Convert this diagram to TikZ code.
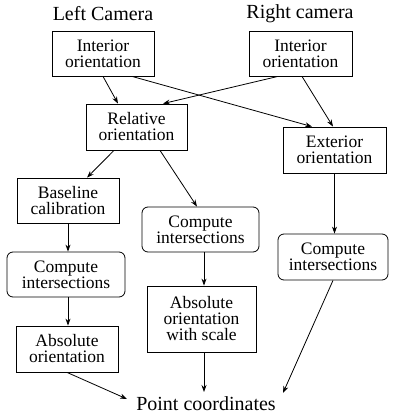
\documentclass[tikz,border=0pt]{standalone}
\usepackage{fontspec}
\setmainfont{Liberation Serif}
\usetikzlibrary{arrows.meta}
\begin{document}
\begin{tikzpicture}[x=1pt,y=-1pt,
  every node/.style={font=\fontsize{17.5}{16}\selectfont, align=center, inner sep=0pt},
  sbox/.style={draw, line width=0.8pt, minimum width=#1},
  rbox/.style={draw, line width=0.8pt, rounded corners=6pt, minimum width=#1},
  title/.style={font=\fontsize{20}{22}\selectfont},
  arr/.style={-{Stealth[length=7pt,width=5pt]}, line width=0.8pt}]
\useasboundingbox (0,0) rectangle (400,420);
\node[title] (LC) at (103,14) {Left Camera};
\node[title] (RC) at (300,14) {Right camera};
\node[sbox=102, minimum height=45] (LI) at (103,53.5) {Interior\\orientation};
\node[sbox=103, minimum height=45] (RI) at (300.5,53.5) {Interior\\orientation};
\node[sbox=101, minimum height=46] (Rel) at (136.5,127) {Relative\\orientation};
\node[sbox=103, minimum height=46] (Ext) at (334.5,150) {Exterior\\orientation};
\node[sbox=102, minimum height=45] (Base) at (68,200.5) {Baseline\\calibration};
\node[rbox=117, minimum height=45] (CM) at (200.5,229.5) {Compute\\intersections};
\node[rbox=110, minimum height=46] (CR) at (333,257) {Compute\\intersections};
\node[rbox=118, minimum height=45] (CL) at (66,274.5) {Compute\\intersections};
\node[sbox=102, minimum height=46] (AL) at (67,349) {Absolute\\orientation};
\node[sbox=109, minimum height=66] (AS) at (201.5,319) {Absolute\\orientation\\with scale};
\node[title] (PC) at (206,404) {Point coordinates};
\coordinate (p1) at (127,399);
\coordinate (p2) at (204,392);
\coordinate (p3) at (283,393);
\draw[arr] (LI.south) -- ([xshift=-18.5pt]Rel.north);
\draw[arr] ([xshift=29pt]LI.south) -- ([xshift=-22.5pt]Ext.north);
\draw[arr] ([xshift=-22.5pt]RI.south) -- ([xshift=26.5pt]Rel.north);
\draw[arr] ([xshift=1.5pt]RI.south) -- ([xshift=-1.5pt]Ext.north);
\draw[arr] ([xshift=-22.5pt]Rel.south) -- ([xshift=19pt]Base.north);
\draw[arr] ([xshift=23.5pt]Rel.south) -- ([xshift=-3.5pt]CM.north);
\draw[arr] (Ext.south) -- (Ext.south |- CR.north);
\draw[arr] (Base.south) -- (Base.south |- CL.north);
\draw[arr] ([xshift=2pt]CL.south) -- ([xshift=2pt]CL.south |- AL.north);
\draw[arr] ([xshift=3.5pt]CM.south) -- ([xshift=3.5pt]CM.south |- AS.north);
\draw[arr] (AL.south) -- (p1);
\draw[arr] ([xshift=2.5pt]AS.south) -- (p2);
\draw[arr] (CR.south) -- (p3);
\end{tikzpicture}
\end{document}
